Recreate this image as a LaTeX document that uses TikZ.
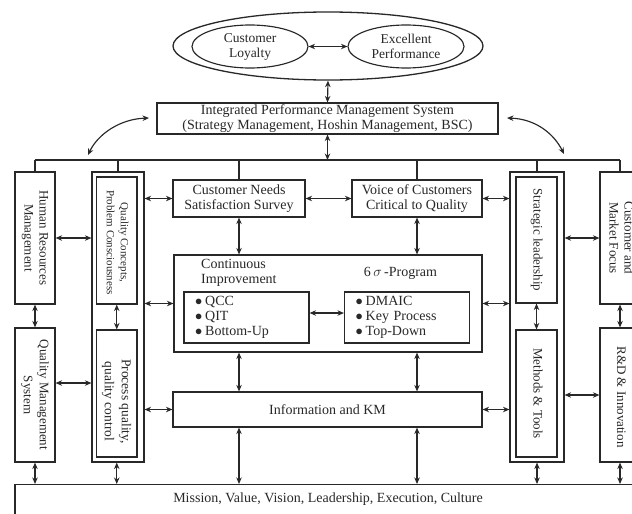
\documentclass[tikz,border=0pt]{standalone}
\usepackage{fontspec}
\setmainfont{Liberation Serif}
\usetikzlibrary{arrows.meta,shapes.geometric}
\definecolor{ink}{RGB}{40,40,40}
% vertical caption: size, line skip, downward shift, lines
\newcommand{\vtext}[4]{\rotatebox{-90}{\hspace*{#3}\fontsize{#1}{#2}\selectfont\begin{tabular}{@{}c@{}}#4\end{tabular}}}
% list bullet
\newcommand{\itm}{$\bullet$\hspace{3pt}}

\begin{document}
\begin{tikzpicture}[x=1pt,y=-1pt,
  box/.style={draw=ink, line width=1.15pt, rectangle, inner sep=0pt, text=ink,
              font=\fontsize{14}{15}\selectfont, align=center},
  oval/.style={draw=ink, line width=1.15pt, ellipse, inner sep=0pt, text=ink,
               font=\fontsize{13.5}{15}\selectfont, align=center},
  dar/.style={draw=ink, line width=1.15pt,
              {Stealth[length=6.5pt,width=5.5pt]}-{Stealth[length=6.5pt,width=5.5pt]}},
  bus/.style={draw=ink, line width=1.15pt},
  lbl/.style={text=ink, font=\fontsize{14}{15}\selectfont, inner sep=0pt},
  items/.style={box, align=left, text width=103pt, inner xsep=11pt,
                minimum height=51pt}
]
\useasboundingbox (0,0) rectangle (632,514);
\fill[white] (0,0) rectangle (632,514);
\clip (0,0) rectangle (632,514);

% ---- goals ----
\node[oval, line width=1.3pt, minimum width=310pt, minimum height=68pt] (goal) at (328,46) {};
\node[oval, minimum width=116pt, minimum height=43pt] (loyal) at (250,46.5) {Customer\\Loyalty};
\node[oval, minimum width=116pt, minimum height=43pt] (excel) at (406,46.5) {Excellent\\Performance};
\draw[dar] (loyal.east) -- (excel.west);

% ---- integrated system ----
\node[box, minimum width=341pt, minimum height=31pt] (ipms) at (327.5,118.5)
  {Integrated Performance Management System\\(Strategy Management, Hoshin Management, BSC)};
\draw[dar] (goal.south) -- (ipms.north);

% ---- left column ----
\node[box, minimum width=40pt, minimum height=132pt] (hr) at (35,238)
  {\vtext{13}{15}{0pt}{Human Resources\\Management}};
\node[box, minimum width=40pt, minimum height=134pt] (qms) at (35,395)
  {\vtext{13}{16}{0pt}{Quality Management\\System}};
\node[box, minimum width=52pt, minimum height=290pt] (qco) at (118,317) {};
\node[box, minimum width=40.5pt, minimum height=127pt] (qci) at (116.75,240.5)
  {\vtext{11}{14}{4pt}{Quality Concepts,\\Problem Consciousness}};
\node[box, minimum width=40.5pt, minimum height=127pt] (pqi) at (116.75,393.5)
  {\vtext{13.5}{17}{16pt}{Process quality,\\quality control}};

% ---- right column ----
\node[box, minimum width=54pt, minimum height=290pt] (slo) at (537,317) {};
\node[box, minimum width=41pt, minimum height=126pt] (sli) at (536.5,240)
  {\vtext{13}{15}{0pt}{Strategic leadership}};
\node[box, minimum width=41pt, minimum height=127pt] (mti) at (536.5,393.5)
  {\vtext{13}{15}{0pt}{Methods \& Tools}};
\node[box, minimum width=40pt, minimum height=132pt] (cmf) at (620,238)
  {\vtext{13}{15}{0pt}{Customer and\\Market Focus}};
\node[box, minimum width=40pt, minimum height=134pt] (rd) at (620,395)
  {\vtext{13}{15}{4pt}{R\&D \& Innovation}};

% ---- centre ----
\node[box, minimum width=132pt, minimum height=37pt] (cnss) at (239,198.5)
  {Customer Needs\\Satisfaction Survey};
\node[box, minimum width=130pt, minimum height=37pt] (voc) at (417,198.5)
  {Voice of Customers\\Critical to Quality};
\node[box, minimum width=308pt, minimum height=97pt] (ci) at (328,303.5) {};
\node[lbl, anchor=west, align=left] (citext) at (201,272.5) {Continuous\\Improvement};
\node[lbl] (sigtext) at (400.5,273) {6\,$\sigma$\,-Program};
\node[items] (cil) at (246.5,317.5)
  {\itm QCC\\\itm QIT\\\itm Bottom-Up};
\node[items] (cir) at (407,317.5)
  {\itm DMAIC\\\itm Key Process\\\itm Top-Down};
\node[box, minimum width=309pt, minimum height=35pt] (info) at (327.5,409.5)
  {Information and KM};

% ---- foundation ----
\node[box, anchor=north, minimum width=626pt, text height=10pt, text depth=40pt,
      inner ysep=8pt] (mission) at (328,484)
  {Mission, Value, Vision, Leadership, Execution, Culture};

% ---- distribution bus ----
\coordinate (busL) at (35,160);
\coordinate (busR) at (620,160);
\draw[bus] (busL) -- (busR);
\draw[dar] (ipms.south) -- (ipms.south |- busL);
\draw[bus] (busL) -- (hr.north);
\draw[bus] (qco.north |- busL) -- (qco.north);
\draw[bus] (cnss.north |- busL) -- (cnss.north);
\draw[bus] (voc.north |- busL) -- (voc.north);
\draw[bus] (slo.north |- busL) -- (slo.north);
\draw[bus] (busR) -- (cmf.north);

% curved links from the integrated system to the bus
\coordinate (al1) at (149,118);
\coordinate (al2) at (88,155);
\coordinate (ar1) at (507,118);
\coordinate (ar2) at (564,154);
\draw[dar] (al2) .. controls (98,134) and (120,119) .. (al1);
\draw[dar] (ar2) .. controls (554,134) and (536,119) .. (ar1);

% ---- horizontal links ----
\draw[dar] (hr.east) -- (hr.east -| qco.west);
\draw[dar] (cnss.west -| qco.east) -- (cnss.west);
\draw[dar] (ci.west -| qco.east) -- (ci.west);
\draw[dar] (cnss.east) -- (voc.west);
\draw[dar] (voc.east) -- (voc.east -| slo.west);
\draw[dar] (ci.east) -- (ci.east -| slo.west);
\draw[dar] (cmf.west -| slo.east) -- (cmf.west);
\draw[dar] ([yshift=4.5pt]cil.east) -- ([yshift=4.5pt]cil.east -| cir.west);
\coordinate (lvlq) at (0,383);
\draw[dar] (qms.east |- lvlq) -- (qco.west |- lvlq);
\draw[dar] (info.west -| qco.east) -- (info.west);
\draw[dar] (info.east) -- (info.east -| slo.west);
\draw[dar] (rd.west -| slo.east) -- (rd.west);

% ---- vertical links ----
\draw[dar] (hr.south) -- (qms.north);
\draw[dar] (qci.south) -- (pqi.north);
\draw[dar] (sli.south) -- (mti.north);
\draw[dar] (cmf.south) -- (rd.north);
\draw[dar] (cnss.south) -- (cnss.south |- ci.north);
\draw[dar] (voc.south) -- (voc.south |- ci.north);
\draw[dar] (cnss.south |- ci.south) -- (cnss.south |- info.north);
\draw[dar] (voc.south |- ci.south) -- (voc.south |- info.north);
\draw[dar] (cnss.south |- info.south) -- (cnss.south |- mission.north);
\draw[dar] (voc.south |- info.south) -- (voc.south |- mission.north);
\draw[dar] (qms.south) -- (qms.south |- mission.north);
\draw[dar] (pqi.south |- qco.south) -- (pqi.south |- mission.north);
\draw[dar] (slo.south) -- (slo.south |- mission.north);
\draw[dar] (rd.south) -- (rd.south |- mission.north);
\end{tikzpicture}
\end{document}
